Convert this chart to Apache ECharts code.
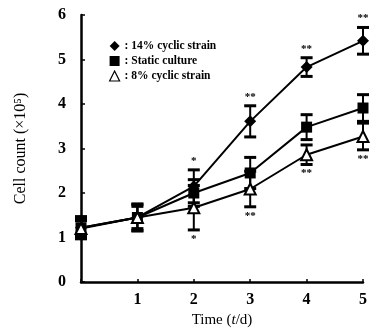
<!DOCTYPE html>
<html><head><meta charset="utf-8">
<script src="https://cdn.jsdelivr.net/npm/echarts@6/dist/echarts.min.js"></script>
<style>html,body{margin:0;padding:0;background:#fff}#c{width:370px;height:333px}</style>
</head><body><div id="c"></div>
<script>
var days = [0, 1, 2, 3, 4, 5];
var strain14 = [1.22, 1.45, 2.15, 3.61, 4.83, 5.42];
var strain14Err = [0.25, 0.3, 0.37, 0.35, 0.21, 0.3];
var staticCulture = [1.22, 1.45, 2.0, 2.45, 3.48, 3.91];
var staticErr = [0.2, 0.25, 0.3, 0.35, 0.28, 0.3];
var strain8 = [1.2, 1.45, 1.67, 2.09, 2.86, 3.27];
var strain8Err = [0.18, 0.3, 0.5, 0.4, 0.22, 0.3];
var sigAbove = ['', '', '*', '**', '**', '**'];
var sigBelow = ['', '', '*', '**', '**', '**'];
var names = ['14% cyclic strain', 'Static culture', '8% cyclic strain'];

var font = 'Liberation Serif';
function pts(v) { return days.map(function (d, i) { return [d, v[i]]; }); }
function errData(v, e) { return days.map(function (d, i) { return [d, v[i] - e[i], v[i] + e[i]]; }); }

function errRender(params, api) {
  var x = api.value(0);
  var lo = api.coord([x, api.value(1)]);
  var hi = api.coord([x, api.value(2)]);
  var w = 6;
  var st = { stroke: '#000', lineWidth: 2 };
  var cap = { stroke: '#000', lineWidth: 3 };
  return { type: 'group', children: [
    { type: 'line', shape: { x1: lo[0], y1: lo[1], x2: hi[0], y2: hi[1] }, style: st },
    { type: 'line', shape: { x1: lo[0] - w, y1: lo[1], x2: lo[0] + w, y2: lo[1] }, style: cap },
    { type: 'line', shape: { x1: hi[0] - w, y1: hi[1], x2: hi[0] + w, y2: hi[1] }, style: cap }
  ]};
}

function sigData(v, e, labels, sign) {
  var out = [];
  days.forEach(function (d, i) {
    if (labels[i]) out.push([d, v[i] + sign * e[i], labels[i], sign]);
  });
  return out;
}
function sigRender(params, api) {
  var p = api.coord([api.value(0), api.value(1)]);
  var sign = api.value(3);
  return { type: 'text', style: {
    x: p[0], y: p[1] - sign * 9, text: String(api.value(2)),
    font: 'bold 11px "Liberation Serif"', fill: '#000',
    align: 'center', verticalAlign: 'middle' } };
}

var chart = echarts.init(document.getElementById('c'));
chart.setOption({
  animation: false,
  backgroundColor: '#fff',
  grid: { left: 81, right: 7, top: 15, bottom: 51, containLabel: false },
  legend: {
    orient: 'vertical', left: 104, top: 35, itemGap: 3, itemWidth: 10, itemHeight: 10,
    formatter: function (n) { return ': ' + n; },
    textStyle: { fontFamily: font, fontSize: 11.5, fontWeight: 'bold', color: '#000' },
    data: [
      { name: names[0], icon: 'diamond', itemStyle: { color: '#000' } },
      { name: names[1], icon: 'rect', itemStyle: { color: '#000' } },
      { name: names[2], icon: 'triangle', itemStyle: { color: '#fff', borderColor: '#000', borderWidth: 1.2 } }
    ]
  },
  xAxis: {
    type: 'value', min: 0, max: 5, interval: 1,
    name: '{n|Time (}{i|t}{n|/d)}', nameLocation: 'middle', nameGap: 28,
    nameTextStyle: { rich: {
      n: { fontFamily: font, fontSize: 15, color: '#000' },
      i: { fontFamily: font, fontSize: 15, fontStyle: 'italic', color: '#000' } } },
    axisLine: { lineStyle: { color: '#000', width: 2.5 } },
    axisTick: { inside: true, length: 3, lineStyle: { color: '#000', width: 1.5 } },
    axisLabel: { fontFamily: font, fontSize: 16, fontWeight: 'bold', color: '#000', margin: 10,
      formatter: function (v) { return v === 0 ? '' : String(v); } },
    splitLine: { show: false }
  },
  yAxis: {
    type: 'value', min: 0, max: 6, interval: 1,
    name: 'Cell count (×10⁵)', nameLocation: 'middle', nameGap: 52, nameRotate: 90,
    nameTextStyle: { fontFamily: font, fontSize: 16, color: '#000' },
    axisLine: { show: true, lineStyle: { color: '#000', width: 2.5 } },
    axisTick: { show: true, inside: true, length: 4, lineStyle: { color: '#000', width: 1.5 } },
    axisLabel: { fontFamily: font, fontSize: 16, fontWeight: 'bold', color: '#000', margin: 15 },
    splitLine: { show: false }
  },
  series: [
    { type: 'custom', renderItem: errRender, data: errData(strain14, strain14Err), clip: false, silent: true, z: 1 },
    { type: 'custom', renderItem: errRender, data: errData(staticCulture, staticErr), clip: false, silent: true, z: 1 },
    { type: 'custom', renderItem: errRender, data: errData(strain8, strain8Err), clip: false, silent: true, z: 1 },
    { name: names[0], type: 'line', data: pts(strain14), symbol: 'diamond', symbolSize: 12, clip: false,
      lineStyle: { color: '#000', width: 2 }, itemStyle: { color: '#000' }, z: 3 },
    { name: names[1], type: 'line', data: pts(staticCulture), symbol: 'rect', symbolSize: 11, clip: false,
      lineStyle: { color: '#000', width: 2 }, itemStyle: { color: '#000' }, z: 3 },
    { name: names[2], type: 'line', data: pts(strain8), symbol: 'triangle', symbolSize: 11, clip: false,
      lineStyle: { color: '#000', width: 2 }, itemStyle: { color: '#fff', borderColor: '#000', borderWidth: 2 }, z: 4 },
    { type: 'custom', renderItem: sigRender, data: sigData(strain14, strain14Err, sigAbove, 1), clip: false, silent: true },
    { type: 'custom', renderItem: sigRender, data: sigData(strain8, strain8Err, sigBelow, -1), clip: false, silent: true }
  ]
});
</script></body></html>
